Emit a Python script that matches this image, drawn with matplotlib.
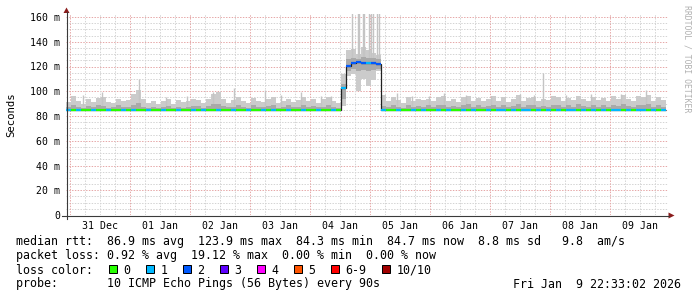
import matplotlib
matplotlib.use('Agg')
import matplotlib.pyplot as plt
import numpy as np
from matplotlib.patches import Rectangle, Polygon

plt.rcParams['font.family'] = ['DejaVu Sans Mono', 'DejaVu Sans']

# 10 days in 2-hour bins, window 30 Dec 22:33 .. 09 Jan 22:33 (values in ms)
median = [
    84.9, 84.7, 84.8, 84.6, 84.8, 84.7, 84.9, 84.8, 84.6, 84.7, 84.8, 84.7,
    84.8, 84.6, 84.7, 84.9, 84.7, 84.8, 84.6, 84.7, 84.8, 84.7, 84.6, 84.8,
    84.7, 84.8, 84.6, 84.7, 84.9, 84.7, 84.8, 84.6, 84.7, 84.8, 84.7, 84.6,
    84.8, 84.7, 84.6, 84.8, 84.7, 84.9, 84.7, 84.6, 84.8, 84.7, 84.8, 84.6,
    84.7, 84.8, 84.6, 84.7, 84.8, 84.7, 84.9, 103.0, 120.5, 122.8, 123.4, 122.9,
    123.1, 122.6, 121.8, 85.1, 84.8, 84.7, 84.6, 84.8, 84.7, 84.8, 84.6, 84.7,
    84.8, 84.6, 84.7, 84.8, 84.7, 84.6, 84.8, 84.7, 84.6, 84.8, 84.7, 84.6,
    84.7, 84.8, 84.6, 84.7, 84.8, 84.6, 84.7, 84.8, 84.7, 84.6, 84.8, 84.7,
    84.6, 84.8, 84.7, 84.6, 84.8, 84.7, 84.6, 84.8, 84.7, 84.8, 84.6, 84.7,
    84.8, 84.6, 84.7, 84.8, 84.6, 84.7, 84.8, 84.6, 84.7, 84.6, 84.8, 84.7,
]
loss = [
    1, 0, 1, 0, 0, 1, 0, 0, 1, 0, 0, 1,
    0, 1, 0, 0, 1, 0, 0, 1, 0, 0, 1, 0,
    0, 1, 0, 1, 0, 0, 1, 0, 0, 1, 0, 0,
    1, 0, 0, 1, 0, 1, 0, 0, 1, 0, 0, 1,
    0, 0, 1, 0, 0, 1, 0, 1, 2, 2, 2, 2,
    1, 2, 2, 1, 0, 0, 1, 0, 0, 1, 0, 1,
    0, 0, 1, 0, 1, 0, 0, 1, 0, 1, 0, 0,
    1, 0, 1, 1, 0, 1, 0, 1, 1, 0, 1, 0,
    1, 0, 1, 0, 1, 1, 0, 1, 0, 1, 0, 1,
    0, 1, 1, 0, 1, 0, 1, 1, 0, 1, 0, 1,
]
smoke_hi = [
    91.0, 96.0, 92.5, 90.0, 93.5, 91.0, 94.5, 95.0, 91.5, 90.5, 94.0, 92.0,
    93.0, 97.5, 101.0, 94.0, 90.5, 92.5, 89.5, 92.0, 94.0, 90.0, 93.0, 91.5,
    92.0, 94.0, 93.0, 90.5, 93.5, 97.5, 99.0, 94.0, 90.5, 93.0, 95.0, 92.0,
    90.5, 94.5, 92.0, 91.0, 93.5, 95.0, 90.5, 92.5, 94.0, 91.0, 93.0, 95.0,
    92.0, 94.0, 90.5, 93.5, 95.0, 92.0, 90.5, 114.0, 133.0, 134.0, 130.0, 136.0,
    133.0, 131.0, 129.0, 97.0, 92.5, 95.0, 93.0, 90.5, 95.5, 92.0, 94.0, 93.0,
    94.0, 92.0, 95.0, 96.0, 92.5, 94.0, 91.5, 95.0, 96.5, 92.0, 94.5, 92.5,
    94.0, 96.0, 92.5, 95.0, 91.5, 94.0, 97.0, 92.0, 94.5, 95.5, 92.0, 94.0,
    93.0, 96.0, 95.5, 92.0, 94.5, 93.0, 96.5, 94.0, 92.0, 95.5, 93.0, 94.5,
    92.0, 96.0, 94.0, 97.0, 93.5, 92.5, 96.0, 95.0, 97.0, 92.5, 95.5, 93.0,
]
smoke_lo = [
    84.0, 84.1, 84.0, 84.0, 84.1, 84.0, 84.0, 84.1, 84.0, 84.0, 84.1, 84.0,
    84.0, 84.1, 84.0, 84.0, 84.1, 84.0, 84.0, 84.1, 84.0, 84.0, 84.1, 84.0,
    84.0, 84.1, 84.0, 84.0, 84.1, 84.0, 84.0, 84.1, 84.0, 84.0, 84.1, 84.0,
    84.0, 84.1, 84.0, 84.0, 84.1, 84.0, 84.0, 84.1, 84.0, 84.0, 84.1, 84.0,
    84.0, 84.1, 84.0, 84.0, 84.1, 84.0, 84.0, 88.0, 112.0, 114.0, 100.0, 110.0,
    104.0, 109.0, 116.0, 84.0, 84.1, 84.0, 84.0, 84.1, 84.0, 84.0, 84.1, 84.0,
    84.0, 84.1, 84.0, 84.0, 84.1, 84.0, 84.0, 84.1, 84.0, 84.0, 84.1, 84.0,
    84.0, 84.1, 84.0, 84.0, 84.1, 84.0, 84.0, 84.1, 84.0, 84.0, 84.1, 84.0,
    84.0, 84.1, 84.0, 84.0, 84.1, 84.0, 84.0, 84.1, 84.0, 84.0, 84.1, 84.0,
    84.0, 84.1, 84.0, 84.0, 84.1, 84.0, 84.0, 84.1, 84.0, 84.0, 84.1, 84.0,
]
inner_hi = [
    87.0, 89.0, 87.5, 86.5, 88.0, 87.0, 88.5, 88.0, 86.5, 87.0, 88.5, 87.0,
    87.5, 89.0, 90.5, 87.5, 86.5, 87.5, 86.5, 87.0, 88.0, 86.5, 87.5, 86.5,
    87.0, 88.0, 88.0, 86.5, 88.0, 89.5, 90.0, 88.0, 87.0, 87.5, 88.5, 87.0,
    86.5, 88.5, 87.0, 87.0, 88.0, 88.5, 86.5, 87.0, 88.5, 87.0, 87.5, 89.0,
    87.0, 88.0, 87.0, 87.5, 88.5, 87.0, 86.5, 106.0, 126.0, 127.0, 126.0, 128.0,
    127.0, 126.5, 126.0, 88.0, 87.0, 88.5, 87.5, 86.5, 89.0, 87.0, 88.0, 87.5,
    88.5, 87.0, 88.5, 89.0, 87.5, 88.0, 87.0, 88.5, 89.5, 87.5, 88.5, 87.0,
    88.0, 89.0, 87.5, 88.5, 87.0, 88.0, 90.0, 87.5, 88.5, 89.0, 87.0, 88.0,
    87.5, 89.0, 89.0, 87.0, 88.5, 87.5, 90.0, 88.0, 87.0, 89.0, 87.5, 88.5,
    87.0, 89.0, 88.0, 90.0, 88.0, 87.5, 89.0, 88.5, 90.0, 87.5, 88.5, 87.0,
]
inner_lo = [
    84.2, 84.2, 84.2, 84.2, 84.2, 84.2, 84.2, 84.2, 84.2, 84.2, 84.2, 84.2,
    84.2, 84.2, 84.2, 84.2, 84.2, 84.2, 84.2, 84.2, 84.2, 84.2, 84.2, 84.2,
    84.2, 84.2, 84.2, 84.2, 84.2, 84.2, 84.2, 84.2, 84.2, 84.2, 84.2, 84.2,
    84.2, 84.2, 84.2, 84.2, 84.2, 84.2, 84.2, 84.2, 84.2, 84.2, 84.2, 84.2,
    84.2, 84.2, 84.2, 84.2, 84.2, 84.2, 84.2, 94.0, 116.0, 118.0, 116.0, 117.0,
    116.0, 117.0, 118.0, 84.2, 84.2, 84.2, 84.2, 84.2, 84.2, 84.2, 84.2, 84.2,
    84.2, 84.2, 84.2, 84.2, 84.2, 84.2, 84.2, 84.2, 84.2, 84.2, 84.2, 84.2,
    84.2, 84.2, 84.2, 84.2, 84.2, 84.2, 84.2, 84.2, 84.2, 84.2, 84.2, 84.2,
    84.2, 84.2, 84.2, 84.2, 84.2, 84.2, 84.2, 84.2, 84.2, 84.2, 84.2, 84.2,
    84.2, 84.2, 84.2, 84.2, 84.2, 84.2, 84.2, 84.2, 84.2, 84.2, 84.2, 84.2,
]
# thin single-ping spikes: hour in window, bottom, top (ms)
spike_hour = [6.8, 14.4, 29.2, 40.0, 48.5, 58.7, 67.4, 79.4, 86.0, 94.0, 102.0, 106.0,
              114.6, 116.8, 117.4, 118.8, 119.4, 121.2, 122.0, 122.8, 124.6, 125.2,
              132.3, 138.3, 145.3, 151.4, 160.0, 170.0, 181.7, 187.0, 190.8, 200.0,
              210.0, 222.0, 231.9]
spike_bot = [88, 88, 88, 88, 88, 88, 88, 88, 88, 88, 88, 88,
             125, 125, 125, 125, 125, 125, 125, 125, 125, 125,
             88, 88, 88, 88, 88, 88, 88, 88, 88, 88,
             88, 88, 88]
spike_top = [97, 99, 110, 95, 96, 99, 103, 101, 97, 99.7, 96, 96,
             170, 170, 170, 170, 170, 170, 170, 170, 170, 170,
             98.8, 96, 96, 98.5, 97, 96, 97.5, 97, 115, 97,
             98, 97.5, 101]

day_labels = ['31 Dec', '01 Jan', '02 Jan', '03 Jan', '04 Jan',
              '05 Jan', '06 Jan', '07 Jan', '08 Jan', '09 Jan']
midnight_offset = 1.45  # hours from window start to 31 Dec 00:00

loss_colors = ['#26ff00', '#00b8ff', '#0059ff', '#5e00ff', '#ff00ff',
               '#ff5500', '#ff0000', '#a10000']
loss_labels = ['0', '1', '2', '3', '4', '5', '6-9', '10/10']

W, H = 697, 297
fig = plt.figure(figsize=(W / 100, H / 100), dpi=100)
fig.patch.set_facecolor('white')

# plot area in pixels: x 66..668, y 14..215
ax = fig.add_axes([66 / W, (H - 215) / H, 602 / W, 201 / H])
ax.set_xlim(0, 240.8)
ax.set_ylim(0, 201 / 1.2375)
ax.set_facecolor('white')
for s in ax.spines.values():
    s.set_visible(False)

# grid
minor_c = '#d4d4d4'
major_c = '#e6a8a8'
dots = (0, (1.4, 1.4))
yminor = [v for v in range(5, 161, 5) if v % 20]
ax.hlines(yminor, 0, 240.8, colors=minor_c, lw=0.72, linestyles=dots, zorder=1)
ax.hlines(range(20, 161, 20), 0, 240.8, colors=major_c, lw=0.72, linestyles=dots, zorder=1)
six = [midnight_offset + 6 * k for k in range(40) if midnight_offset + 6 * k < 240.8]
xminor = [h for i, h in enumerate(six) if i % 4]
xmajor = [h for i, h in enumerate(six) if i % 4 == 0]
ax.vlines(xminor, 0, 170, colors=minor_c, lw=0.72, linestyles=dots, zorder=1)
ax.vlines(xmajor, 0, 170, colors=major_c, lw=0.72, linestyles=dots, zorder=1)

# smoke
edges = np.arange(len(median) + 1) * 2.0
ax.stairs(smoke_hi, edges, baseline=smoke_lo, fill=True, color='#cbcbcb', lw=0, zorder=2)
ax.vlines(spike_hour, spike_bot, spike_top, colors='#c4c4c4', lw=1.0, zorder=2)
ax.stairs(inner_hi, edges, baseline=inner_lo, fill=True, color='#a9a9a9', lw=0, zorder=3)

# median
ax.stairs(median, edges, baseline=None, color='#202020', lw=0.9, zorder=4)
ax.hlines(median, edges[:-1], edges[1:], colors=[loss_colors[l] for l in loss],
          lw=1.6, zorder=5)

# ticks
ax.set_xticks([midnight_offset + 12 + 24 * k for k in range(10)])
ax.set_xticklabels(day_labels)
ax.set_yticks(range(0, 161, 20))
ax.set_yticklabels(['0'] + ['%d m' % v for v in range(20, 161, 20)])
ax.tick_params(axis='both', length=0, labelsize=7.1, colors='black')
ax.tick_params(axis='x', pad=4.6)
ax.tick_params(axis='y', pad=4.3)

# pixel overlay for frame, legend and labels
pix = fig.add_axes([0, 0, 1, 1], facecolor='none')
pix.set_xlim(0, W)
pix.set_ylim(H, 0)
pix.axis('off')
pix.plot([66.5, 66.5], [219, 12], color='#3a3a3a', lw=0.8)
pix.plot([62, 669], [215.5, 215.5], color='#3a3a3a', lw=0.8)
pix.add_patch(Polygon([(63.5, 13), (69.5, 13), (66.5, 7.5)], color='#8b1c1c', lw=0))
pix.add_patch(Polygon([(668.5, 212.5), (668.5, 218.5), (674.5, 215.5)], color='#8b1c1c', lw=0))

pix.text(11, 115, 'Seconds', rotation=90, ha='center', va='center', fontsize=7.7)
pix.text(687, 59, 'RRDTOOL / TOBI OETIKER', rotation=270, ha='center', va='center',
         fontsize=5.9, color='#b0b0b0')

fs = 8.4
pix.text(16, 245.5, 'median rtt:  86.9 ms avg  123.9 ms max  84.3 ms min  84.7 ms now  8.8 ms sd   9.8  am/s',
         fontsize=fs, va='baseline')
pix.text(16, 259.5, 'packet loss: 0.92 % avg  19.12 % max  0.00 % min  0.00 % now',
         fontsize=fs, va='baseline')
pix.text(16, 273.5, 'loss color:', fontsize=fs, va='baseline')
sq_x = [108.5, 145.5, 182.5, 219.5, 256.5, 293.5, 330.5, 381.5]
for x0, c, lab in zip(sq_x, loss_colors, loss_labels):
    pix.add_patch(Rectangle((x0, 265), 8, 8, facecolor=c, edgecolor='black', lw=0.72))
    pix.text(x0 + 15, 273.5, lab, fontsize=fs, va='baseline')
pix.text(16, 287.5, 'probe:       10 ICMP Echo Pings (56 Bytes) every 90s',
         fontsize=fs, va='baseline')
pix.text(513, 287.5, 'Fri Jan  9 22:33:02 2026', fontsize=fs, va='baseline')

fig.savefig('out.png', dpi=100, facecolor='white')
